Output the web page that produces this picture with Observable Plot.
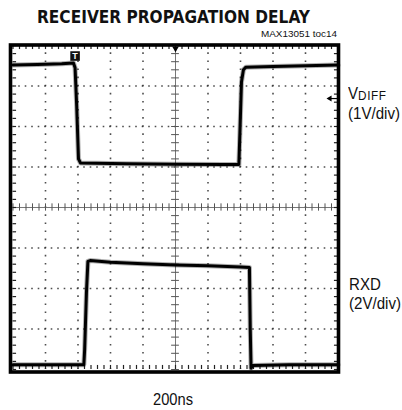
<!DOCTYPE html>
<html>
<head>
<meta charset="utf-8">
<script src="https://cdn.jsdelivr.net/npm/d3@7"></script>
<script src="https://cdn.jsdelivr.net/npm/@observablehq/plot@0.6"></script>
<style>
  html, body { margin: 0; padding: 0; background: #fff; }
  #wrap { position: relative; width: 402px; height: 410px; overflow: hidden; }
  #wrap svg { position: absolute; left: 0; top: 0; }
  .lbl { position: absolute; white-space: nowrap; color: #111; }
</style>
</head>
<body>
<div id="wrap"></div>
<script>
// ---- data (time in ns, 200 ns/div; amplitude in screen divisions, 8 div tall) ----
const vdiffTime = [0, 150, 300, 372, 382, 392, 403, 415, 700, 1000, 1300, 1390, 1396, 1406, 1418, 1432, 1600, 1800, 2000];
const vdiffDiv  = [7.52, 7.53, 7.55, 7.57, 7.45, 6.5, 5.2, 5.1, 5.08, 5.07, 5.06, 5.06, 5.8, 7.1, 7.4, 7.46, 7.48, 7.5, 7.52];
const rxdTime   = [0, 200, 436, 441, 452, 461, 475, 600, 800, 1000, 1200, 1400, 1455, 1460, 1465, 1475, 1700, 2000];
const rxdDiv    = [0.12, 0.12, 0.12, 0.5, 1.9, 2.67, 2.69, 2.65, 2.61, 2.58, 2.56, 2.53, 2.52, 1.0, 0.03, 0.1, 0.12, 0.12];

const gridTimes = [200, 400, 600, 800, 1200, 1400, 1600, 1800];
const gridDivs  = [1, 2, 3, 5, 6, 7];
const centerTime = 1000, centerDiv = 4;
const minorTimes = d3.range(0, 2001, 40);
const minorDivs  = d3.range(0, 8.001, 0.2);
const triggerTime = 382, triggerDiv = 7.74;
const triggerLevelDiv = 6.69;

const titleText = "RECEIVER PROPAGATION DELAY";
const partText = "MAX13051 toc14";
const timeLabel = "200ns";
const vdiffName = "V", vdiffSub = "DIFF", vdiffScale = "(1V/div)";
const rxdName = "RXD", rxdScale = "(2V/div)";

const vdiff = vdiffTime.map((t, i) => ({t, v: vdiffDiv[i]}));
const rxd = rxdTime.map((t, i) => ({t, v: rxdDiv[i]}));

const chart = Plot.plot({
  width: 402, height: 410,
  marginLeft: 12.5, marginRight: 64.5, marginTop: 45, marginBottom: 41,
  x: {domain: [0, 2000], axis: null},
  y: {domain: [0, 8], axis: null},
  marks: [
    Plot.gridX(gridTimes, {stroke: "#222", strokeOpacity: 0.8, strokeWidth: 1.6, strokeDasharray: "1.6,6.5", strokeDashoffset: 0.8}),
    Plot.gridY(gridDivs, {stroke: "#222", strokeOpacity: 0.8, strokeWidth: 1.6, strokeDasharray: "1.6,4.9", strokeDashoffset: 0.8}),
    Plot.ruleX([centerTime], {stroke: "#777", strokeWidth: 1}),
    Plot.ruleY([centerDiv], {stroke: "#777", strokeWidth: 1}),
    Plot.ruleX(minorTimes, {x: d => d, y1: 3.91, y2: 4.09, stroke: "#555", strokeWidth: 1}),
    Plot.ruleY(minorDivs, {y: d => d, x1: 976, x2: 1024, stroke: "#555", strokeWidth: 1}),
    Plot.ruleX(minorTimes, {x: d => d, y1: 8, y2: 7.9, stroke: "#222", strokeWidth: 1.2}),
    Plot.ruleX(minorTimes, {x: d => d, y1: 0, y2: 0.1, stroke: "#222", strokeWidth: 1.2}),
    Plot.ruleY(minorDivs, {y: d => d, x1: 0, x2: 22, stroke: "#222", strokeWidth: 1.2}),
    Plot.ruleY(minorDivs, {y: d => d, x1: 1978, x2: 2000, stroke: "#222", strokeWidth: 1.2}),
    // traces
    Plot.line(vdiff, {x: "t", y: "v", stroke: "#000", strokeWidth: 5, strokeOpacity: 0.3}),
    Plot.line(vdiff, {x: "t", y: "v", stroke: "#000", strokeWidth: 3}),
    Plot.line(rxd, {x: "t", y: "v", stroke: "#000", strokeWidth: 5, strokeOpacity: 0.3}),
    Plot.line(rxd, {x: "t", y: "v", stroke: "#000", strokeWidth: 3}),
    // markers
    Plot.dot([centerTime], {x: d => d, y: 8, dy: 3, symbol: "triangle2", rotate: 180, r: 3.2, fill: "#000", stroke: null}),
    Plot.dot([triggerTime], {x: d => d, y: triggerDiv, symbol: "square", r: 5.4, fill: "#111", stroke: null}),
    Plot.text([triggerTime], {x: d => d, y: triggerDiv, text: () => "T", fill: "#fff", fontSize: 9, fontWeight: "bold", fontFamily: "Liberation Sans, Arial, sans-serif"}),
    Plot.ruleY([triggerLevelDiv], {x1: 1950, x2: 2000, stroke: "#000", strokeWidth: 1.2}),
    Plot.dot([triggerLevelDiv], {x: 1950, y: d => d, symbol: "triangle2", rotate: -90, r: 2.8, fill: "#000", stroke: null}),
    Plot.frame({stroke: "#000", strokeWidth: 3.6, insetLeft: -2.5, insetBottom: -2.5, insetTop: -0.5, insetRight: -0.5})
  ]
});
const wrap = document.getElementById("wrap");
wrap.appendChild(chart);

// text overlays: x anchor, first baseline y, line height, target width (condensed look)
function label(html, {x, baseline, size, family, weight = "normal", anchor = "start", width, lineHeight}) {
  const lh = lineHeight || size;
  const el = document.createElement("div");
  el.className = "lbl";
  el.style.fontSize = size + "px";
  el.style.lineHeight = lh + "px";
  el.style.fontFamily = family;
  el.style.fontWeight = weight;
  el.innerHTML = html;
  wrap.appendChild(el);
  const natural = el.getBoundingClientRect().width;
  const s = width ? width / natural : 1;
  const w = natural * s;
  el.style.transformOrigin = "0 0";
  el.style.transform = `scaleX(${s})`;
  const left = anchor === "middle" ? x - w / 2 : anchor === "end" ? x - w : x;
  el.style.left = left + "px";
  el.style.top = (baseline - (lh / 2 + 0.3465 * size)) + "px";
  return el;
}
const sans = "'Liberation Sans', Arial, sans-serif";
label(titleText, {x: 173.5, baseline: 23, size: 18, family: "'DejaVu Sans', sans-serif", weight: "bold", anchor: "middle", width: 273});
label(partText, {x: 337, baseline: 38, size: 9.3, family: sans, anchor: "end", width: 76});
label(`${vdiffName}<span style="font-size:0.78em;letter-spacing:0.6px;position:relative;top:0.5px">${vdiffSub}</span><br>${vdiffScale}`,
      {x: 348, baseline: 99.5, size: 15.8, lineHeight: 17.8, family: sans, width: 52});
label(`${rxdName}<br>${rxdScale}`, {x: 349, baseline: 290, size: 16.5, lineHeight: 18.6, family: sans, width: 52});
label(timeLabel, {x: 173, baseline: 405, size: 16.5, family: sans, anchor: "middle", width: 40});
</script>
</body>
</html>
